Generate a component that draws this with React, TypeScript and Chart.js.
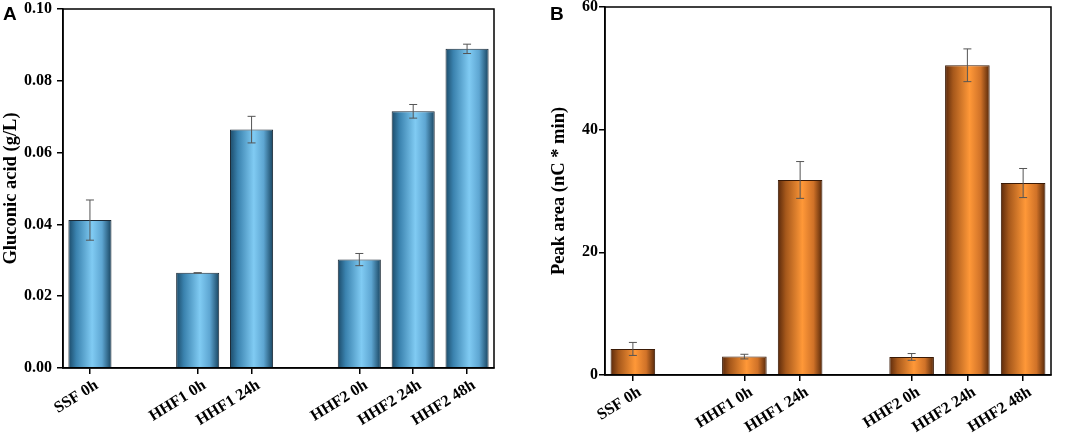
import { useEffect, useRef } from 'react'
import { Chart, registerables } from 'chart.js'

Chart.register(...registerables)

// category slots, empty strings are the gaps between groups
const categories = ['SSF 0h', '', 'HHF1 0h', 'HHF1 24h', '', 'HHF2 0h', 'HHF2 24h', 'HHF2 48h']

const gluconicAcid = [0.0412, null, 0.0265, 0.0664, null, 0.0302, 0.0715, 0.0889]
const gluconicErr = [0.0056, null, 0, 0.0037, null, 0.0017, 0.0019, 0.0013]
const gluconicTicks = [0, 0.02, 0.04, 0.06, 0.08, 0.1]

const peakArea = [4.25, null, 3.0, 31.8, null, 2.95, 50.5, 31.3]
const peakErr = [1.06, null, 0.38, 3.0, null, 0.55, 2.67, 2.37]
const peakTicks = [0, 20, 40, 60]

const serif = '"Liberation Serif", "Times New Roman", serif'

const blueStops: [number, string][] = [
  [0, '#1b4a68'],
  [0.18, '#3a82ae'],
  [0.55, '#80cbf3'],
  [0.78, '#5ea6d2'],
  [1, '#17435f'],
]
const orangeStops: [number, string][] = [
  [0, '#5a290b'],
  [0.18, '#a6581b'],
  [0.55, '#ff9838'],
  [0.8, '#d07228'],
  [1, '#552709'],
]

type PanelPropsT = {
  letter: string
  values: (number | null)[]
  errors: (number | null)[]
  ticks: number[]
  decimals: number
  yTitle: string
  stops: [number, string][]
  border: string
  left: number
  width: number
  pad: { left: number; top: number; right: number }
  yWidth: number
  xHeight: number
  tickPad: number
  letterLeft: number
}

const Panel = (p: PanelPropsT) => {
  const canvasRef = useRef<HTMLCanvasElement>(null)

  useEffect(() => {
    const errorBars = {
      id: 'errorBars',
      afterDatasetsDraw(chart: any) {
        const ctx = chart.ctx
        const y = chart.scales.y
        const meta = chart.getDatasetMeta(0)
        ctx.save()
        ctx.strokeStyle = '#555'
        ctx.lineWidth = 1
        meta.data.forEach((bar: any, i: number) => {
          const v = p.values[i]
          const e = p.errors[i]
          if (v == null || e == null) return
          const top = y.getPixelForValue(v + e)
          const bot = y.getPixelForValue(v - e)
          ctx.beginPath()
          ctx.moveTo(bar.x, top)
          ctx.lineTo(bar.x, bot)
          ctx.moveTo(bar.x - 4, top)
          ctx.lineTo(bar.x + 4, top)
          ctx.moveTo(bar.x - 4, bot)
          ctx.lineTo(bar.x + 4, bot)
          ctx.stroke()
        })
        ctx.restore()
      },
    }

    const frame = {
      id: 'frame',
      afterDraw(chart: any) {
        const { left, top, right, bottom } = chart.chartArea
        const ctx = chart.ctx
        ctx.save()
        ctx.strokeStyle = '#000'
        ctx.lineWidth = 1.5
        ctx.strokeRect(left, top, right - left, bottom - top)
        ctx.restore()
      },
    }

    const chart = new Chart(canvasRef.current!, {
      type: 'bar',
      data: {
        labels: categories,
        datasets: [
          {
            data: p.values as any,
            backgroundColor: (c: any) => {
              const xs = c.chart.scales.x
              if (!xs || !c.chart.chartArea) return p.stops[2][1]
              const cx = xs.getPixelForValue(c.dataIndex)
              const w = (xs.width / categories.length) * 0.8
              const g = c.chart.ctx.createLinearGradient(cx - w / 2, 0, cx + w / 2, 0)
              p.stops.forEach(([o, col]) => g.addColorStop(o, col))
              return g
            },
            borderColor: p.border,
            borderWidth: 1,
            barPercentage: 0.8,
            categoryPercentage: 1,
          },
        ],
      },
      options: {
        animation: false,
        responsive: true,
        maintainAspectRatio: false,
        layout: {
          padding: { left: p.pad.left, top: p.pad.top, right: p.pad.right, bottom: 0 },
        },
        plugins: { legend: { display: false }, tooltip: { enabled: false } },
        scales: {
          x: {
            offset: true,
            afterFit: (s: any) => {
              s.height = p.xHeight
              s.paddingLeft = 0
              s.paddingRight = 0
            },
            grid: {
              offset: false,
              drawOnChartArea: false,
              tickLength: 6,
              color: (c: any) => (categories[c.index] ? '#000' : 'rgba(0,0,0,0)'),
              lineWidth: 1.5,
            },
            border: { display: true, color: '#000', width: 1.5 },
            ticks: {
              autoSkip: false,
              minRotation: 32,
              maxRotation: 32,
              padding: 2,
              labelOffset: 7,
              color: '#000',
              font: { family: serif, size: 16, weight: 'bold' },
            },
          },
          y: {
            min: p.ticks[0],
            max: p.ticks[p.ticks.length - 1],
            afterFit: (s: any) => {
              s.width = p.yWidth
              s.paddingTop = 0
              s.paddingBottom = 0
            },
            afterBuildTicks: (s: any) => {
              s.ticks = p.ticks.map((v) => ({ value: v }))
            },
            grid: { drawOnChartArea: false, tickLength: 6, color: '#000', lineWidth: 1.5 },
            border: { display: true, color: '#000', width: 1.5 },
            ticks: {
              padding: p.tickPad,
              color: '#000',
              font: { family: serif, size: 16, weight: 'bold' },
              callback: (v: any) => Number(v).toFixed(p.decimals),
            },
            title: {
              display: true,
              text: p.yTitle,
              color: '#000',
              padding: 0,
              font: { family: serif, size: 18.5, weight: 'bold' },
            },
          },
        },
      },
      plugins: [errorBars, frame],
    })

    return () => chart.destroy()
  }, [])

  return (
    <div style={{ position: 'absolute', left: p.left, top: 0, width: p.width, height: 434 }}>
      <canvas ref={canvasRef}></canvas>
      <div
        style={{
          position: 'absolute',
          left: p.letterLeft,
          top: 3,
          fontFamily: '"Liberation Sans", Arial, sans-serif',
          fontWeight: 'bold',
          fontSize: 19,
          lineHeight: '22px',
        }}
      >
        {p.letter}
      </div>
    </div>
  )
}

const App = () => {
  return (
    <div style={{ position: 'absolute', left: 0, top: 0, width: 1065, height: 434, background: '#fff' }}>
      <Panel
        letter="A"
        values={gluconicAcid}
        errors={gluconicErr}
        ticks={gluconicTicks}
        decimals={2}
        yTitle="Gluconic acid (g/L)"
        stops={blueStops}
        border="#1c2a36"
        left={0}
        width={530}
        pad={{ left: 0, top: 9, right: 36 }}
        yWidth={63}
        xHeight={66}
        tickPad={5}
        letterLeft={3}
      />
      <Panel
        letter="B"
        values={peakArea}
        errors={peakErr}
        ticks={peakTicks}
        decimals={0}
        yTitle="Peak area (nC * min)"
        stops={orangeStops}
        border="#3a1a06"
        left={530}
        width={535}
        pad={{ left: 18, top: 7, right: 14 }}
        yWidth={57}
        xHeight={59}
        tickPad={1}
        letterLeft={20}
      />
    </div>
  )
}

export default App
